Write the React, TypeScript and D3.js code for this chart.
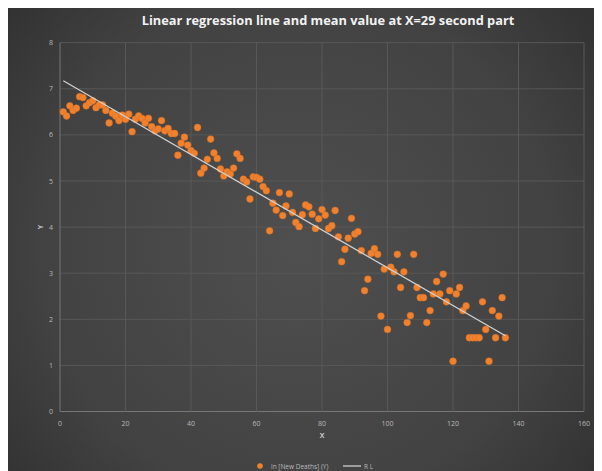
import React from "react";
import * as d3 from "d3";

// Day index (X) and ln(new deaths) (Y)
const days = [
  1, 2, 3, 4, 5, 6, 7, 8, 9, 10, 11, 12, 13, 14, 15, 16, 17, 18, 19, 20,
  21, 22, 23, 24, 25, 26, 27, 28, 29, 30, 31, 32, 33, 34, 35, 36, 37, 38, 39, 40,
  41, 42, 43, 44, 45, 46, 47, 48, 49, 50, 51, 52, 53, 54, 55, 56, 57, 58, 59, 60,
  61, 62, 63, 64, 65, 66, 67, 68, 69, 70, 71, 72, 73, 74, 75, 76, 77, 78, 79, 80,
  81, 82, 83, 84, 85, 86, 87, 88, 89, 90, 91, 92, 93, 94, 95, 96, 97, 98, 99, 100,
  101, 102, 103, 104, 105, 106, 107, 108, 109, 110, 111, 112, 113, 114, 115, 116, 117, 118, 119, 120,
  121, 122, 123, 124, 125, 126, 127, 128, 129, 130, 131, 132, 133, 134, 135, 136,
];
const lnDeaths = [
  6.50, 6.41, 6.63, 6.53, 6.58, 6.83, 6.81, 6.63, 6.70, 6.74, 6.59, 6.65, 6.65, 6.53, 6.26, 6.47, 6.41, 6.31, 6.43, 6.34,
  6.45, 6.07, 6.34, 6.41, 6.36, 6.26, 6.36, 6.18, 6.09, 6.13, 6.31, 6.09, 6.14, 6.03, 6.03, 5.56, 5.82, 5.95, 5.78, 5.66,
  5.60, 6.16, 5.17, 5.28, 5.47, 5.91, 5.61, 5.49, 5.26, 5.11, 5.20, 5.15, 5.28, 5.59, 5.49, 5.04, 4.98, 4.61, 5.09, 5.08,
  5.04, 4.88, 4.79, 3.92, 4.52, 4.37, 4.75, 4.25, 4.46, 4.72, 4.32, 4.10, 4.01, 4.27, 4.48, 4.44, 4.28, 3.97, 4.18, 4.38,
  4.26, 3.97, 4.03, 4.36, 3.79, 3.25, 3.52, 3.76, 4.19, 3.85, 3.90, 3.49, 2.62, 2.87, 3.43, 3.53, 3.41, 2.07, 3.09, 1.78,
  3.13, 3.03, 3.41, 2.69, 3.03, 1.93, 2.08, 3.41, 2.69, 2.47, 2.47, 1.93, 2.19, 2.55, 2.82, 2.55, 2.98, 2.38, 2.62, 1.09,
  2.55, 2.69, 2.19, 2.29, 1.60, 1.60, 1.60, 1.60, 2.38, 1.78, 1.09, 2.19, 1.60, 2.07, 2.47, 1.60,
];

const xTicks = [0, 20, 40, 60, 80, 100, 120, 140, 160];
const yTicks = [0, 1, 2, 3, 4, 5, 6, 7, 8];

const TITLE = "Linear regression line and mean value at X=29 second part";
const SERIES_NAME = "ln [New Deaths] (Y)";
const LINE_NAME = "R L";

const W = 594;
const H = 463;
const FONT = "'Open Sans', 'DejaVu Sans', sans-serif";

export default function App() {
  // plot rectangle in svg coordinates
  const left = 52;
  const right = 576;
  const top = 34.7;
  const bottom = 403.5;

  const x = d3.scaleLinear().domain([0, 160]).range([left, right]);
  const y = d3.scaleLinear().domain([0, 8]).range([bottom, top]);

  // least-squares fit
  const mx = d3.mean(days) as number;
  const my = d3.mean(lnDeaths) as number;
  let sxy = 0;
  let sxx = 0;
  days.forEach((d, i) => {
    sxy += (d - mx) * (lnDeaths[i] - my);
    sxx += (d - mx) * (d - mx);
  });
  const slope = sxy / sxx;
  const intercept = my - slope * mx;
  const x0 = d3.min(days) as number;
  const x1 = d3.max(days) as number;
  const fitLine = d3
    .line<number>()
    .x((d) => x(d))
    .y((d) => y(intercept + slope * d));

  const points = days.map((d, i) => ({ d, v: lnDeaths[i] }));

  return (
    <svg width={W} height={H} style={{ display: "block" }} fontFamily={FONT}>
      <defs>
        <radialGradient id="bg" cx="290" cy="240" r="430" gradientUnits="userSpaceOnUse">
          <stop offset="0" stopColor="#4f4f4f" />
          <stop offset="0.6" stopColor="#424242" />
          <stop offset="1" stopColor="#2b2b2b" />
        </radialGradient>
      </defs>
      <rect x={0} y={0} width={W} height={H} fill="url(#bg)" />

      <text
        x={320}
        y={17}
        textAnchor="middle"
        fill="#f2f2f2"
        fontSize={12.8}
        fontWeight="bold"
      >
        {TITLE}
      </text>

      {/* gridlines */}
      {yTicks.map((t) => (
        <line
          key={"gy" + t}
          x1={left}
          x2={right}
          y1={y(t)}
          y2={y(t)}
          stroke={t === 0 ? "#777" : "#585858"}
          strokeWidth={1}
        />
      ))}
      {xTicks.map((t) => (
        <line
          key={"gx" + t}
          x1={x(t)}
          x2={x(t)}
          y1={top}
          y2={bottom}
          stroke={t === 0 ? "#777" : "#585858"}
          strokeWidth={1}
        />
      ))}

      {/* tick labels */}
      {yTicks.map((t) => (
        <text
          key={"ly" + t}
          x={left - 7}
          y={y(t) + 2.5}
          textAnchor="end"
          fill="#b8b8b8"
          fontSize={7}
        >
          {t}
        </text>
      ))}
      {xTicks.map((t) => (
        <text
          key={"lx" + t}
          x={x(t)}
          y={417.5}
          textAnchor="middle"
          fill="#b8b8b8"
          fontSize={7}
        >
          {t}
        </text>
      ))}

      {/* axis titles */}
      <text
        transform={`translate(34.5, ${y(4)}) rotate(-90)`}
        textAnchor="middle"
        fill="#c8c8c8"
        fontSize={7}
        fontWeight="bold"
      >
        Y
      </text>
      <text x={x(80)} y={430} textAnchor="middle" fill="#c8c8c8" fontSize={7} fontWeight="bold">
        X
      </text>

      {/* points */}
      {points.map((p) => (
        <circle key={p.d} cx={x(p.d)} cy={y(p.v)} r={3.4} fill="#f0822f" stroke="#d96e22" strokeWidth={0.5} />
      ))}

      {/* regression line */}
      <path d={fitLine([x0, x1]) || ""} fill="none" stroke="#d0d0d0" strokeWidth={1.3} />

      {/* legend */}
      <circle cx={252} cy={458} r={2.8} fill="#f0822f" />
      <text x={263} y={460.5} fill="#b8b8b8" fontSize={6.5}>
        {SERIES_NAME}
      </text>
      <line x1={335} x2={353} y1={458} y2={458} stroke="#d0d0d0" strokeWidth={1.3} />
      <text x={356} y={460.5} fill="#b8b8b8" fontSize={6.5}>
        {LINE_NAME}
      </text>
    </svg>
  );
}
